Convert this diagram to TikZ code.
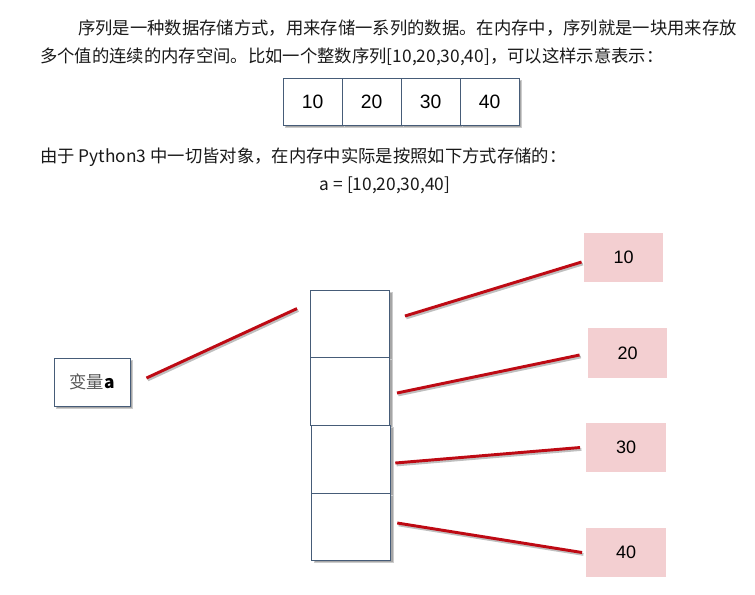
\documentclass[tikz,border=0pt]{standalone}
\usepackage{fontspec}
\setmainfont{Noto Sans CJK SC}
\newfontfamily\numfont{Liberation Sans}
\definecolor{boxline}{RGB}{70,92,120}
\definecolor{linkred}{RGB}{190,10,20}
\definecolor{valpink}{RGB}{243,207,209}
\definecolor{textgray}{RGB}{25,25,25}
\begin{document}
\begin{tikzpicture}[x=0.75pt, y=-0.75pt,
  txt/.style={anchor=west, inner sep=0pt, text=textgray, font=\fontsize{13}{15}\selectfont},
  cell/.style={draw=boxline, fill=white, inner sep=0pt, line width=0.7pt,
    preaction={fill=black!35, draw=black!20, line width=1pt, transform canvas={xshift=2pt, yshift=-2pt}}},
  val/.style={fill=valpink, inner sep=0pt, minimum width=59.5pt, minimum height=37pt,
    font=\numfont\fontsize{13.5}{15}\selectfont},
  link/.style={linkred, line width=2.2pt,
    preaction={draw=black!25, line width=2pt, transform canvas={xshift=1pt, yshift=-1.5pt}}}]
\useasboundingbox (0,0) rectangle (755,594);
% text above
\node[txt] (l1) at (78,28) {序列是一种数据存储方式，用来存储一系列的数据。在内存中，序列就是一块用来存放};
\node[txt] (l2) at (40,57) {多个值的连续的内存空间。比如一个整数序列[10,20,30,40]，可以这样示意表示：};
% the plain array
\foreach \n/\x in {10/312.5, 20/371.5, 30/430.5, 40/489.5}
  \node[cell, minimum width=44.25pt, minimum height=35.25pt, font=\numfont\fontsize{14.5}{16}\selectfont] (a\n) at (\x,101.5) {\n};
\node[txt] (l3) at (40,157) {由于 Python3 中一切皆对象，在内存中实际是按照如下方式存储的：};
\node[txt, anchor=center] (l4) at (385,185) {a = [10,20,30,40]};
% variable and memory cells
\node[cell, minimum width=57pt, minimum height=36pt, font=\fontsize{13}{15}\selectfont] (var) at (92,382) {\textcolor{black!65}{变量}\textbf{a}};
\node[cell, minimum width=59.25pt, minimum height=50.25pt] (c1) at (350,323.5) {};
\node[cell, minimum width=59.25pt, minimum height=51pt] (c2) at (350,391) {};
\node[cell, minimum width=59.25pt, minimum height=51pt] (c3) at (351.3,459) {};
\node[cell, minimum width=59.25pt, minimum height=50.25pt] (c4) at (351.3,526.5) {};
% values
\node[val] (v10) at (623.5,257.5) {10};
\node[val] (v20) at (627.5,353) {20};
\node[val] (v30) at (626,447.5) {30};
\node[val] (v40) at (626,552.5) {40};
% links
\draw[link] ([shift={(16,-4)}]var.east) -- ([shift={(-13,19)}]c1.north west);
\draw[link] ([shift={(15,-7.5)}]c1.east) -- ([shift={(-2,4.5)}]v10.west);
\draw[link] ([shift={(7,2)}]c2.east) -- ([shift={(-8,2)}]v20.west);
\draw[link] ([shift={(4,4)}]c3.east) -- ([shift={(-6,0)}]v30.west);
\draw[link] ([shift={(6,-3.5)}]c4.east) -- ([shift={(-4,0)}]v40.west);
\end{tikzpicture}
\end{document}
